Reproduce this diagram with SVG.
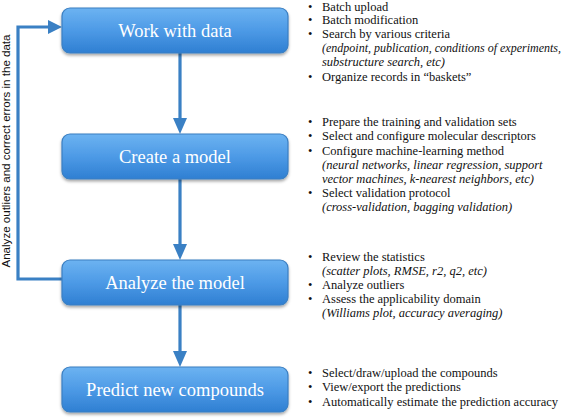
<svg xmlns="http://www.w3.org/2000/svg" width="567" height="418" viewBox="0 0 567 418">
<defs>
<linearGradient id="bg" x1="0" y1="0" x2="0" y2="1">
<stop offset="0" stop-color="#6cb3f1"/>
<stop offset="0.5" stop-color="#4d9ae6"/>
<stop offset="1" stop-color="#2f7fd2"/>
</linearGradient>
<filter id="sh" x="-10%" y="-20%" width="120%" height="150%">
<feDropShadow dx="0" dy="2" stdDeviation="1.5" flood-color="#000" flood-opacity="0.35"/>
</filter>
<style>
.box{fill:url(#bg);stroke:#3b7fc2;stroke-width:1.2;filter:url(#sh)}
.title{font-family:"Liberation Serif","DejaVu Serif",serif;font-size:18.5px;fill:#fff;text-anchor:middle}
.conn{stroke:#3a80c4;stroke-width:3.2;fill:none}
.head{fill:#3a80c4}
.t{font-family:"Liberation Serif","DejaVu Serif",serif;font-size:12.5px;fill:#111}
.i{font-style:italic}
.s{font-size:12px}
.side{font-family:"Liberation Sans","DejaVu Sans",sans-serif;font-size:11px;fill:#111}
</style>
</defs>
<g id="connectors">
<line class="conn" x1="180" y1="53" x2="180" y2="119"/>
<polygon class="head" points="173,118 187,118 180,134"/>
<line class="conn" x1="180" y1="179" x2="180" y2="245"/>
<polygon class="head" points="173,244 187,244 180,260"/>
<line class="conn" x1="180" y1="305" x2="180" y2="352"/>
<polygon class="head" points="173,351 187,351 180,367"/>
<polyline class="conn" points="62,279 18,279 18,27 49,27"/>
<polygon class="head" points="48,20 48,34 62,27"/>
<text class="side" transform="translate(10,151) rotate(-90)" text-anchor="middle" textLength="233" lengthAdjust="spacingAndGlyphs">Analyze outliers and correct errors in the data</text>
</g>
<g id="node-work">
<rect class="box" x="62" y="8" width="226" height="45" rx="8"/>
<text class="title" x="175" y="37">Work with data</text>
</g>
<g id="node-create">
<rect class="box" x="62" y="134" width="226" height="45" rx="8"/>
<text class="title" x="175" y="163">Create a model</text>
</g>
<g id="node-analyze">
<rect class="box" x="62" y="260" width="226" height="45" rx="8"/>
<text class="title" x="175" y="289">Analyze the model</text>
</g>
<g id="node-predict">
<rect class="box" x="62" y="367" width="226" height="45" rx="8"/>
<text class="title" x="175" y="396">Predict new compounds</text>
</g>
<g id="notes-work" class="t">
<text x="308" y="10.5">•</text><text x="322" y="10.5">Batch upload</text>
<text x="308" y="24">•</text><text x="322" y="24">Batch modification</text>
<text x="308" y="38">•</text><text x="322" y="38">Search by various criteria</text>
<text class="i s" x="322" y="52">(endpoint, publication, conditions of experiments,</text>
<text class="i" x="322" y="66">substructure search, etc)</text>
<text x="308" y="80.5">•</text><text x="322" y="80.5">Organize records in “baskets”</text>
</g>
<g id="notes-create" class="t">
<text x="308" y="126">•</text><text x="322" y="126">Prepare the training and validation sets</text>
<text x="308" y="140">•</text><text x="322" y="140">Select and configure molecular descriptors</text>
<text x="308" y="155">•</text><text x="322" y="155">Configure machine-learning method</text>
<text class="i" x="322" y="169">(neural networks, linear regression, support</text>
<text class="i" x="322" y="183">vector machines, k-nearest neighbors, etc)</text>
<text x="308" y="197">•</text><text x="322" y="197">Select validation protocol</text>
<text class="i" x="322" y="211">(cross-validation, bagging validation)</text>
</g>
<g id="notes-analyze" class="t">
<text x="308" y="261">•</text><text x="322" y="261">Review the statistics</text>
<text class="i" x="322" y="275">(scatter plots, RMSE, r2, q2, etc)</text>
<text x="308" y="289">•</text><text x="322" y="289">Analyze outliers</text>
<text x="308" y="303">•</text><text x="322" y="303">Assess the applicability domain</text>
<text class="i" x="322" y="317">(Williams plot, accuracy averaging)</text>
</g>
<g id="notes-predict" class="t">
<text x="308" y="377">•</text><text x="322" y="377">Select/draw/upload the compounds</text>
<text x="308" y="391">•</text><text x="322" y="391">View/export the predictions</text>
<text x="308" y="406">•</text><text x="322" y="406">Automatically estimate the prediction accuracy</text>
</g>
</svg>
